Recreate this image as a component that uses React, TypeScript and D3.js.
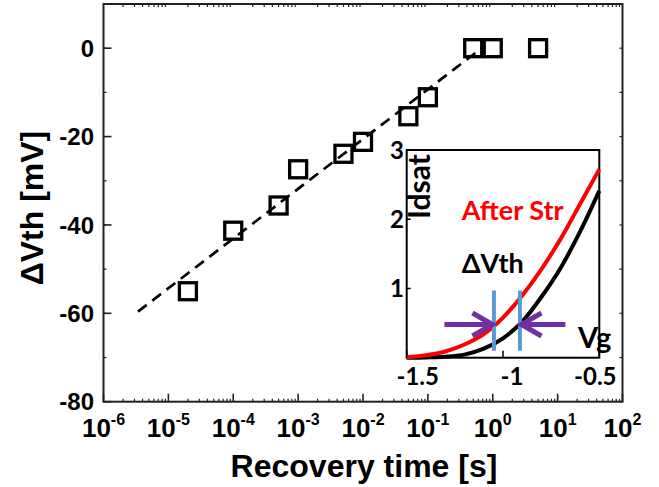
import React from 'react';
import * as d3 from 'd3';

// Threshold-voltage recovery after stress
const recoveryTime = [2e-5, 1e-4, 5e-4, 1e-3, 5e-3, 1e-2, 5e-2, 1e-1, 0.5, 1, 5];
const deltaVth = [-55, -41.3, -35.6, -27.4, -23.9, -21.2, -15.4, -11.1, 0, 0, 0];

// Log-linear fit through the recovering points
const fitTime = [3.4e-6, 0.73];
const fitVth = [-59.6, 0.4];

const xTickExponents = [-6, -5, -4, -3, -2, -1, 0, 1, 2];
const yTicks = [0, -20, -40, -60, -80];
const yMinorTicks = [10, 0, -10, -20, -30, -40, -50, -60, -70, -80];

// Inset: Idsat vs Vg, fresh (black) and after stress (red)
const vgSweep = [-1.5, -1.4, -1.3, -1.2, -1.1, -1.0, -0.9, -0.8, -0.7, -0.6, -0.5];
const idsatFresh = [0, 0.004, 0.014, 0.045, 0.13, 0.28, 0.52, 0.88, 1.3, 1.82, 2.41];
const idsatStressed = [0.006, 0.035, 0.09, 0.19, 0.34, 0.58, 0.9, 1.28, 1.72, 2.22, 2.72];
const vthStressed = -1.047;
const vthFresh = -0.912;
const insetXTicks = [-1.5, -1, -0.5];
const insetXLabels = ['-1.5', '-1', '-0.5'];
const insetYTicks = [1, 2, 3];

const mainFont = "'Liberation Sans', Arial, sans-serif";
const insetFont = "Lato, 'Open Sans', sans-serif";

export default function App() {
  const W = 659;
  const H = 487;
  const left = 103.5, right = 622.5, top = 4, bottom = 401.7;

  const x = d3.scaleLog().domain([1e-6, 1e2]).range([left, right]);
  const y = d3.scaleLinear().domain([-80, 10]).range([bottom, top]);

  const minorX: number[] = [];
  for (let e = -6; e < 2; e++) {
    for (let k = 2; k <= 9; k++) minorX.push(k * Math.pow(10, e));
  }

  const fitPath = d3.line<number>()
    .x((_, i) => x(fitTime[i]))
    .y((_, i) => y(fitVth[i]))(fitTime) as string;

  // inset geometry
  const iL = 406.7, iR = 599.3, iT = 150, iB = 357.7;
  const ix = d3.scaleLinear().domain([-1.5, -0.5]).range([iL, iR]);
  const iy = d3.scaleLinear().domain([0, 3]).range([iB, iT]);
  const curve = (vs: number[], is: number[]) =>
    d3.line<number>()
      .x((_, i) => ix(vs[i]))
      .y((_, i) => iy(is[i]))
      .curve(d3.curveMonotoneX)(vs) as string;

  const arrowY = iy(0.48);
  const tipL = ix(vthStressed) - 1.5;
  const tipR = ix(vthFresh) + 1.5;
  const labelShift = [11, 9, -4];
  const sq = 17;

  return (
    <svg width={W} height={H} style={{ position: 'absolute', left: 0, top: 0, background: '#fff' }}>
      {/* frame */}
      <rect x={left} y={top} width={right - left} height={bottom - top} fill="none" stroke="#222" strokeWidth={2} />

      {/* bottom / top x ticks */}
      {minorX.map((v, i) => (
        <g key={'mx' + i}>
          <line x1={x(v)} x2={x(v)} y1={bottom} y2={bottom - 3} stroke="#222" strokeWidth={1.2} />
          <line x1={x(v)} x2={x(v)} y1={top} y2={top + 3} stroke="#222" strokeWidth={1.2} />
        </g>
      ))}
      {xTickExponents.map((e) => (
        <g key={'xt' + e}>
          <line x1={x(Math.pow(10, e))} x2={x(Math.pow(10, e))} y1={bottom} y2={bottom - 8} stroke="#222" strokeWidth={1.6} />
          <text x={x(Math.pow(10, e))} y={437} textAnchor="middle" fontFamily={mainFont} fontWeight="bold" fontSize={26} fill="#000">
            10<tspan dy={-12} fontSize={16}>{e}</tspan>
          </text>
        </g>
      ))}

      {/* y ticks */}
      {yMinorTicks.map((v) => (
        <g key={'my' + v}>
          <line x1={left} x2={left + 3} y1={y(v)} y2={y(v)} stroke="#222" strokeWidth={1.2} />
          <line x1={right} x2={right - 3} y1={y(v)} y2={y(v)} stroke="#222" strokeWidth={1.2} />
        </g>
      ))}
      {yTicks.map((v) => (
        <g key={'yt' + v}>
          <line x1={left} x2={left + 8} y1={y(v)} y2={y(v)} stroke="#222" strokeWidth={1.6} />
          <text x={94} y={y(v)} dy="0.36em" textAnchor="end" fontFamily={mainFont} fontWeight="bold" fontSize={24} fill="#000">
            {v}
          </text>
        </g>
      ))}

      {/* axis titles */}
      <text x={364} y={477} textAnchor="middle" fontFamily={mainFont} fontWeight="bold" fontSize={32} fill="#000">
        Recovery time [s]
      </text>
      <text transform="translate(31,208) rotate(-90)" textAnchor="middle" dy="0.36em" fontFamily={mainFont} fontWeight="bold" fontSize={32} fill="#000">
        ΔVth [mV]
      </text>

      {/* fit line */}
      <path d={fitPath} fill="none" stroke="#000" strokeWidth={2.7} strokeDasharray="11,7" />

      {/* data */}
      {recoveryTime.map((t, i) => (
        <rect key={'p' + i} x={x(t) - sq / 2} y={y(deltaVth[i]) - sq / 2} width={sq} height={sq} fill="none" stroke="#000" strokeWidth={3.3} />
      ))}

      {/* inset */}
      <rect x={iL} y={iT} width={iR - iL} height={iB - iT} fill="#fff" stroke="#000" strokeWidth={2} />
      <path d={curve(vgSweep, idsatFresh)} fill="none" stroke="#000" strokeWidth={4} />
      <path d={curve(vgSweep, idsatStressed)} fill="none" stroke="#ff0000" strokeWidth={4} />
      {insetYTicks.map((v) => (
        <g key={'iy' + v}>
          <line x1={iL} x2={iL + 4} y1={iy(v)} y2={iy(v)} stroke="#000" strokeWidth={1.5} />
          <text x={404} y={iy(v)} dy="0.36em" textAnchor="end" fontFamily={insetFont} fontWeight="bold" fontSize={24} fill="#000">
            {v}
          </text>
        </g>
      ))}
      {insetXTicks.map((v, i) => (
        <g key={'ix' + v}>
          <line x1={ix(v)} x2={ix(v)} y1={iB} y2={iB - 7} stroke="#000" strokeWidth={1.5} />
          <text x={ix(v) + labelShift[i]} y={385} textAnchor="middle" fontFamily={insetFont} fontWeight="bold" fontSize={24} fill="#000">
            {insetXLabels[i]}
          </text>
        </g>
      ))}

      {/* threshold markers */}
      <line x1={ix(vthStressed)} x2={ix(vthStressed)} y1={iy(0.97)} y2={iy(0.1)} stroke="#5b9bd5" strokeWidth={4} />
      <line x1={ix(vthFresh)} x2={ix(vthFresh)} y1={iy(0.97)} y2={iy(0.1)} stroke="#5b9bd5" strokeWidth={4} />
      <g stroke="#7030a0" strokeWidth={5} fill="none" strokeLinecap="butt">
        <line x1={tipL - 48} x2={tipL - 2} y1={arrowY} y2={arrowY} />
        <polyline points={`${tipL - 20},${arrowY - 11.5} ${tipL},${arrowY} ${tipL - 20},${arrowY + 11.5}`} />
        <line x1={tipR + 44} x2={tipR + 2} y1={arrowY} y2={arrowY} />
        <polyline points={`${tipR + 20},${arrowY - 11.5} ${tipR},${arrowY} ${tipR + 20},${arrowY + 11.5}`} />
      </g>

      {/* inset labels */}
      <text transform="translate(430,219) rotate(-90)" fontFamily={insetFont} fontWeight="bold" fontSize={30} fill="#000">
        Idsat
      </text>
      <text x={461.7} y={220} fontFamily={insetFont} fontWeight="bold" fontSize={27} fill="#ff0000">
        After Str
      </text>
      <text x={461.7} y={273} fontFamily={insetFont} fontWeight="bold" fontSize={27} fill="#000">
        ΔVth
      </text>
      <text x={578} y={348} fontFamily={insetFont} fontWeight="bold" fontSize={29} fill="#000">
        Vg
      </text>
    </svg>
  );
}
